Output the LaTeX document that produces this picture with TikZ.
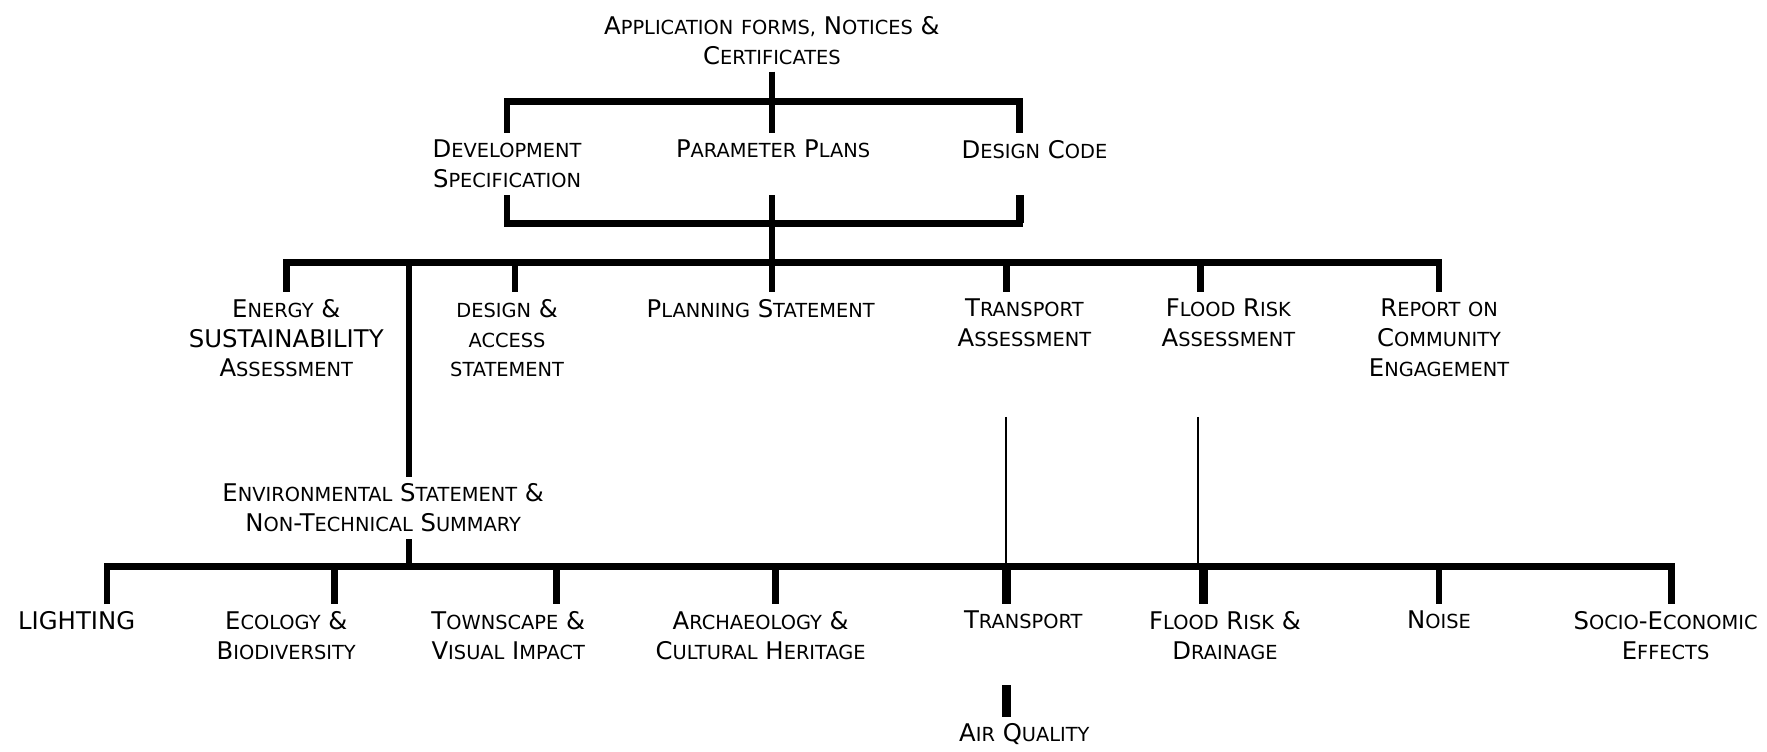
\documentclass[tikz,border=0pt]{standalone}
\usepackage{fontspec}
\setmainfont{DejaVu Sans}
\newcommand{\sm}[1]{{\fontsize{8.6}{13.25}\selectfont\MakeUppercase{#1}}}

\begin{document}
\begin{tikzpicture}[x=0.5pt,y=-0.5pt,
			bar/.style={line width=3pt},
			heavy bar/.style={line width=3.8pt},
			thin bar/.style={line width=0.8pt},
			label node/.style={align=center,anchor=north,inner sep=3pt,font=\fontsize{10.8}{13.25}\selectfont}]
			
			\useasboundingbox (0,0) rectangle (1568,667);
			
			% top and the three plans
			\node[label node] (apps) at (685,8) {A\sm{pplication} \sm{forms,} N\sm{otices} \&\\C\sm{ertificates}};
			\node[label node] (devspec) at (450,118) {D\sm{evelopment}\\S\sm{pecification}};
			\node[label node] (params) at (686,118) {P\sm{arameter} P\sm{lans}};
			\node[label node] (code) at (918,118) {D\sm{esign} C\sm{ode}};
			
			% supporting documents
			\node[label node] (energy) at (254,259) {E\sm{nergy} \&\\SUSTAINABILITY\\A\sm{ssessment}};
			\node[label node] (das) at (450,259) {\sm{design} \&\\\sm{access}\\\sm{statement}};
			\node[label node] (plan) at (675,259) {P\sm{lanning} S\sm{tatement}};
			\node[label node] (tra) at (909,259) {T\sm{ransport}\\A\sm{ssessment}};
			\node[label node] (fra) at (1090,259) {F\sm{lood} R\sm{isk}\\A\sm{ssessment}};
			\node[label node] (report) at (1277,259) {R\sm{eport} \sm{on}\\C\sm{ommunity}\\E\sm{ngagement}};
			
			\node[label node] (env) at (340,423) {E\sm{nvironmental} S\sm{tatement} \&\\N\sm{on}-T\sm{echnical} S\sm{ummary}};
			
			% ES chapters
			\node[label node] (light) at (68,536) {LIGHTING};
			\node[label node] (eco) at (254,536) {E\sm{cology} \&\\B\sm{iodiversity}};
			\node[label node] (town) at (451,536) {T\sm{ownscape} \&\\V\sm{isual} I\sm{mpact}};
			\node[label node] (arch) at (675,536) {A\sm{rchaeology} \&\\C\sm{ultural} H\sm{eritage}};
			\node[label node] (trans) at (908,536) {T\sm{ransport}};
			\node[label node] (flood) at (1087,536) {F\sm{lood} R\sm{isk} \&\\D\sm{rainage}};
			\node[label node] (noise) at (1277,536) {N\sm{oise}};
			\node[label node] (socio) at (1478,536) {S\sm{ocio}-E\sm{conomic}\\E\sm{ffects}};
			\node[label node] (air) at (909,636) {A\sm{ir} Q\sm{uality}};
			
			% bar levels and tick points
			\coordinate (b1) at (685,90);
			\coordinate (b2) at (685,198);
			\coordinate (b3) at (685,233);
			\coordinate (b4) at (363,503);
			\coordinate (c1) at (905,90);
			\coordinate (c3env) at (363,233);
			\coordinate (c3das) at (457,233);
			\coordinate (c3tra) at (893,233);
			\coordinate (c3fra) at (1065,233);
			\coordinate (ttra) at (893,370);
			\coordinate (tfra) at (1063,370);
			\coordinate (c4light) at (95,503);
			\coordinate (c4eco) at (297,503);
			\coordinate (c4town) at (494,503);
			\coordinate (c4arch) at (688,503);
			\coordinate (c4trans) at (893,503);
			\coordinate (c4flood) at (1068,503);
			\coordinate (c4noise) at (1277,503);
			\coordinate (c4socio) at (1483,503);
			\coordinate (aq) at (893,608);
			
			% plans
			\draw[bar] (apps.south) -- (b1);
			\draw[bar] (devspec.north) |- (b1) -| (c1 |- code.north);
			\draw[bar] (b1) -- (b1 |- params.north);
			\draw[bar] (devspec.south) |- (b2) -| (c1 |- devspec.south);
			\draw[heavy bar] (c1 |- devspec.south) -- (c1 |- b2);
			\draw[bar] (b1 |- devspec.south) -- (b1 |- plan.north);
			
			% documents
			\draw[bar] (energy.north) |- (b3) -| (report.north);
			\draw[bar] (c3env) -- (c3env |- env.north);
			\draw[bar] (c3das) -- (c3das |- das.north);
			\draw[bar] (c3tra) -- (c3tra |- tra.north);
			\draw[bar] (c3fra) -- (c3fra |- fra.north);
			\draw[thin bar] (ttra) -- (ttra |- b4);
			\draw[thin bar] (tfra) -- (tfra |- b4);
			
			% chapters
			\draw[bar] (b4 |- env.south) -- (b4);
			\draw[bar] (c4light |- light.north) |- (b4) -| (c4socio |- socio.north);
			\draw[bar] (c4eco) -- (c4eco |- eco.north);
			\draw[bar] (c4town) -- (c4town |- town.north);
			\draw[bar] (c4arch) -- (c4arch |- arch.north);
			\draw[heavy bar] (c4trans) -- (c4trans |- trans.north);
			\draw[heavy bar] (c4flood) -- (c4flood |- flood.north);
			\draw[bar] (c4noise) -- (c4noise |- noise.north);
			\draw[heavy bar] (aq) -- (aq |- air.north);
		\end{tikzpicture}
\end{document}
